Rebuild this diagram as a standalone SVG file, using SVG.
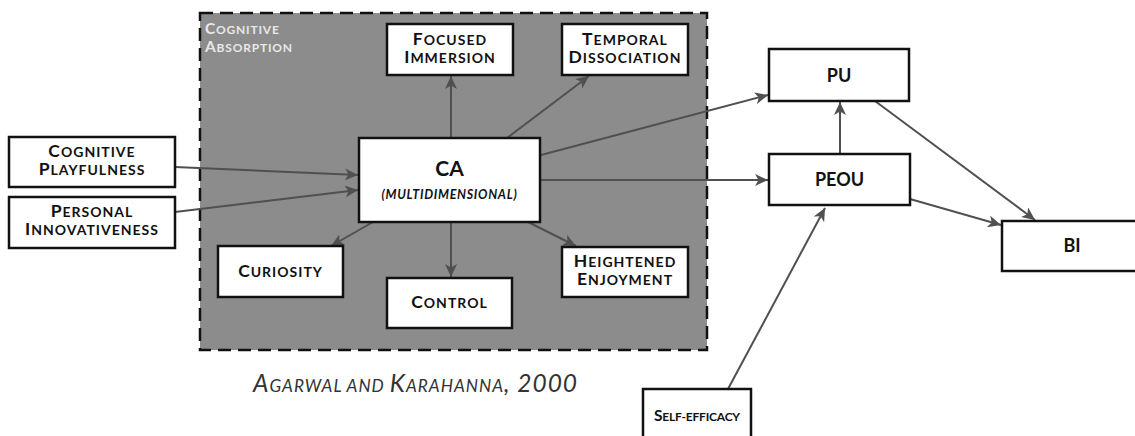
<svg xmlns="http://www.w3.org/2000/svg" width="1135" height="436" viewBox="0 0 1135 436">
  <style>
    .box { fill: #ffffff; stroke: #111111; stroke-width: 2.5; }
    .lbl { font-family: Lato, "Open Sans", sans-serif; font-weight: bold; font-size: 14px; fill: #111111; text-anchor: middle; letter-spacing: 1px; }
    .lbl .c { font-size: 17.5px; }
    .big { font-family: Lato, "Open Sans", sans-serif; font-weight: bold; font-size: 18px; fill: #111111; text-anchor: middle; }
    .conn { stroke: #505050; stroke-width: 2; fill: none; marker-end: url(#arrow); }
  </style>
  <defs>
    <marker id="arrow" markerUnits="userSpaceOnUse" viewBox="0 0 14 12" refX="13" refY="6" markerWidth="14" markerHeight="12" orient="auto">
      <path d="M0,0 L13,6 L0,12 L3.5,6 Z" fill="#505050"/>
    </marker>
  </defs>

  <!-- Cognitive absorption frame -->
  <g id="cognitive-absorption">
    <rect x="200" y="13" width="507" height="337" fill="#8c8c8c" stroke="#111111" stroke-width="2.5" stroke-dasharray="13 7"/>
    <text font-family="Lato, 'Open Sans', sans-serif" font-weight="bold" font-size="12" fill="#e8e8e8" letter-spacing="0.8">
      <tspan x="205" y="34"><tspan font-size="15.5">C</tspan>OGNITIVE</tspan>
      <tspan x="205" y="52"><tspan font-size="15.5">A</tspan>BSORPTION</tspan>
    </text>
  </g>

  <!-- Connectors -->
  <g id="connectors">
    <path class="conn" d="M175,167 L358,175"/>
    <path class="conn" d="M175,212 L358,190"/>
    <path class="conn" d="M451,138 L451,76"/>
    <path class="conn" d="M507,138 L589,76"/>
    <path class="conn" d="M541,155 L768,95"/>
    <path class="conn" d="M541,180 L768,180"/>
    <path class="conn" d="M373,222 L331,246"/>
    <path class="conn" d="M451,222 L451,277"/>
    <path class="conn" d="M528,222 L576,246"/>
    <path class="conn" d="M840,154 L840,102"/>
    <path class="conn" d="M875,101 L1035,220"/>
    <path class="conn" d="M910,199 L1001,225"/>
    <path class="conn" d="M728,389 L825,208"/>
  </g>

  <g id="cognitive-playfulness">
    <rect class="box" x="9" y="137" width="166" height="50"/>
    <text class="lbl"><tspan x="92" y="157"><tspan class="c">C</tspan>OGNITIVE</tspan><tspan x="92" y="175"><tspan class="c">P</tspan>LAYFULNESS</tspan></text>
  </g>
  <g id="personal-innovativeness">
    <rect class="box" x="9" y="197" width="166" height="51"/>
    <text class="lbl"><tspan x="92" y="217"><tspan class="c">P</tspan>ERSONAL</tspan><tspan x="92" y="235"><tspan class="c">I</tspan>NNOVATIVENESS</tspan></text>
  </g>
  <g id="focused-immersion">
    <rect class="box" x="387" y="24" width="126" height="51"/>
    <text class="lbl"><tspan x="450" y="45"><tspan class="c">F</tspan>OCUSED</tspan><tspan x="450" y="63"><tspan class="c">I</tspan>MMERSION</tspan></text>
  </g>
  <g id="temporal-dissociation">
    <rect class="box" x="562" y="24" width="126" height="51"/>
    <text class="lbl"><tspan x="625" y="45"><tspan class="c">T</tspan>EMPORAL</tspan><tspan x="625" y="63"><tspan class="c">D</tspan>ISSOCIATION</tspan></text>
  </g>
  <g id="ca">
    <rect class="box" x="359" y="138" width="181" height="84"/>
    <text class="big" x="449.5" y="176" style="font-size:21px">CA</text>
    <text class="lbl" x="449.5" y="199" style="font-size:12.5px;font-style:italic;letter-spacing:0.7px">(MULTIDIMENSIONAL)</text>
  </g>
  <g id="curiosity">
    <rect class="box" x="218" y="246" width="125" height="51"/>
    <text class="lbl" x="280.5" y="277"><tspan class="c">C</tspan>URIOSITY</text>
  </g>
  <g id="control">
    <rect class="box" x="387" y="278" width="125" height="50"/>
    <text class="lbl" x="449.5" y="308"><tspan class="c">C</tspan>ONTROL</text>
  </g>
  <g id="heightened-enjoyment">
    <rect class="box" x="562" y="247" width="126" height="50"/>
    <text class="lbl"><tspan x="625" y="267"><tspan class="c">H</tspan>EIGHTENED</tspan><tspan x="625" y="285"><tspan class="c">E</tspan>NJOYMENT</tspan></text>
  </g>
  <g id="pu">
    <rect class="box" x="769" y="49" width="140" height="52"/>
    <text class="big" x="839" y="81.5">PU</text>
  </g>
  <g id="peou">
    <rect class="box" x="769" y="154" width="141" height="51"/>
    <text class="big" x="839.5" y="186">PEOU</text>
  </g>
  <g id="bi">
    <rect class="box" x="1002" y="221" width="150" height="50"/>
    <text class="big" x="1072" y="252">BI</text>
  </g>
  <g id="self-efficacy">
    <rect class="box" x="643" y="389" width="108" height="60"/>
    <text class="lbl" x="697" y="421" style="font-size:12px;letter-spacing:-0.2px"><tspan style="font-size:15.5px">S</tspan>ELF-EFFICACY</text>
  </g>

  <!-- Source note -->
  <text x="253" y="392" font-family="Lato, 'Open Sans', sans-serif" font-style="italic" font-size="17.2" fill="#333333" letter-spacing="1"><tspan font-size="24.5">A</tspan>GARWAL AND <tspan font-size="24.5">K</tspan>ARAHANNA<tspan font-size="24.5">, 2000</tspan></text>
</svg>
